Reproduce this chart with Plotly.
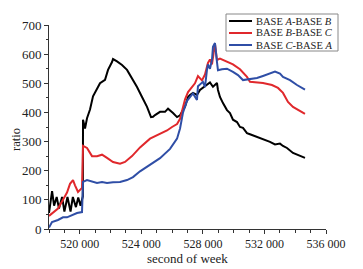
import plotly.graph_objects as go

# ---- data ----
ab_x = [518000, 518200, 518330, 518500, 518650, 518850, 519000, 519200, 519400, 519550,
        519750, 519900, 520050, 520200, 520210, 520340, 520470, 520665, 520860, 521120,
        521315, 521640, 521835, 522095, 522160, 522420, 522745, 523070, 523395, 523720,
        524045, 524370, 524630, 524760, 524890, 525215, 525540, 525735, 526060, 526320,
        526515, 526840, 527035, 527160, 527355, 527615, 527810, 528265, 528460, 528655,
        528915, 528980, 529110, 529305, 529565, 529760, 529955, 530215, 530410, 530605,
        530865, 531060, 531515, 531905, 532360, 532685, 532880, 533010, 533205, 533465,
        533855, 534180, 534310, 534635]
ab_y = [55, 130, 80, 110, 70, 110, 60, 110, 60, 110,
        75, 108, 80, 112, 375, 345, 380, 410, 455, 478,
        500, 512, 546, 573, 583, 575, 563, 546, 518, 487,
        453, 419, 384, 385, 391, 402, 402, 413, 398, 384,
        390, 420, 453, 460, 467, 460, 477, 494, 503, 488,
        501, 477, 453, 432, 408, 398, 375, 367, 350, 347,
        329, 325, 316, 309, 299, 290, 292, 293, 285, 278,
        261, 255, 250, 244]

bc_x = [518000, 518260, 518585, 518910, 519170, 519365, 519560, 519690, 519885, 520145,
        520210, 520470, 520795, 521120, 521445, 521770, 522160, 522615, 522940, 523395,
        523915, 524565, 525215, 525670, 525995, 526320, 526515, 526840, 527035, 527160,
        527485, 527680, 527940, 528135, 528330, 528460, 528590, 528785, 528915, 529110,
        529565, 529955, 530410, 530865, 531060, 531905, 532490, 532880, 533205, 533530,
        533855, 534310, 534635]
bc_y = [45, 55, 70, 100, 125, 155, 168, 150, 127, 141,
        285, 278, 250, 250, 255, 244, 230, 224, 230, 250,
        280, 310, 325, 338, 350, 360, 378, 445, 470, 478,
        500, 525, 510, 530, 570, 582, 565, 635, 580, 585,
        575, 565, 548, 522, 505, 501, 494, 484, 467, 436,
        419, 405, 395]

ca_x = [518000, 518195, 518585, 518910, 519170, 519495, 519820, 520145, 520210, 520470,
        520795, 521120, 521445, 521770, 522160, 522615, 523070, 523460, 523915, 524565,
        525215, 525865, 526320, 526515, 526710, 526970, 527160, 527355, 527615, 527680,
        528005, 528135, 528265, 528330, 528460, 528590, 528655, 528785, 528915, 528980,
        529240, 529565, 529955, 530280, 530605, 531060, 531515, 531905, 532360, 532685,
        533010, 533205, 533660, 534115, 534635]
ca_y = [5, 24, 31, 40, 40, 48, 55, 58, 162, 168,
        162, 158, 161, 158, 160, 161, 168, 178, 198, 220,
        243, 275, 310, 345, 400, 440, 453, 465, 443, 490,
        505, 487, 546, 565, 550, 580, 625, 638, 573, 545,
        548, 550, 539, 528, 511, 514, 518, 525, 535, 540,
        533, 522, 511, 494, 478]

x_tick_vals = [520000, 524000, 528000, 532000, 536000]
x_tick_text = ["520 000", "524 000", "528 000", "532 000", "536 000"]
y_tick_vals = [0, 100, 200, 300, 400, 500, 600, 700]
legend_names = ["BASE <i>A</i>-BASE <i>B</i>", "BASE <i>B</i>-BASE <i>C</i>", "BASE <i>C</i>-BASE <i>A</i>"]

colors = ["#000000", "#e0282c", "#2f4ea6"]
FONT = "Liberation Serif"

fig = go.Figure()
for xs, ys, c, n in [(ab_x, ab_y, colors[0], legend_names[0]),
                     (bc_x, bc_y, colors[1], legend_names[1]),
                     (ca_x, ca_y, colors[2], legend_names[2])]:
    fig.add_trace(go.Scatter(x=xs, y=ys, mode="lines", name=n,
                             line=dict(color=c, width=2), showlegend=False))

# page body has an 8px margin; figure is sized so it fills the window
OFF = 8
W, H = 363 - OFF, 269 - OFF
L, T = 49 - OFF, 25 - OFF
R = W - (326 - OFF)
B = H - (229 - OFF)
pw, ph = W - L - R, H - T - B

def px(x):  # reference window pixel -> paper x
    return (x - OFF - L) / pw

def py(y):  # reference window pixel -> paper y
    return (H - B - (y - OFF)) / ph

shapes = [dict(type="rect", xref="paper", yref="paper",
               x0=px(226), x1=px(338), y0=py(51), y1=py(14),
               line=dict(color="#888888", width=1), fillcolor="white")]
annotations = []
rows = [21, 33, 45]
for i, r in enumerate(rows):
    shapes.append(dict(type="line", xref="paper", yref="paper",
                       x0=px(229), x1=px(252), y0=py(r), y1=py(r),
                       line=dict(color=colors[i], width=2)))
    annotations.append(dict(xref="paper", yref="paper", x=px(254), y=py(r),
                            xanchor="left", yanchor="middle", showarrow=False,
                            text=legend_names[i],
                            font=dict(family=FONT, size=10.5, color="#222")))

annotations.append(dict(xref="paper", yref="paper", x=px(187), y=py(258),
                        xanchor="center", yanchor="middle", showarrow=False,
                        text="second of week", font=dict(family=FONT, size=13, color="#222")))
annotations.append(dict(xref="paper", yref="paper", x=px(16), y=py(140),
                        xanchor="center", yanchor="middle", showarrow=False, textangle=-90,
                        text="ratio", font=dict(family=FONT, size=12.5, color="#222")))

fig.update_layout(
    width=W, height=H,
    margin=dict(l=L, r=R, t=T, b=B, autoexpand=False),
    paper_bgcolor="white", plot_bgcolor="white",
    font=dict(family=FONT, color="#222"),
    shapes=shapes, annotations=annotations,
    xaxis=dict(range=[518000, 536000], tickvals=x_tick_vals, ticktext=x_tick_text,
               showgrid=False, zeroline=False, showline=True, linecolor="#333",
               linewidth=1, ticks="outside", ticklen=4, tickcolor="#333",
               tickfont=dict(family=FONT, size=12),
               minor=dict(dtick=1000, ticks="outside", ticklen=3, tickcolor="#333",
                          showgrid=False)),
    yaxis=dict(range=[0, 700], tickvals=y_tick_vals,
               showgrid=False, zeroline=False, showline=True, linecolor="#333",
               linewidth=1, ticks="outside", ticklen=4, tickcolor="#333",
               tickfont=dict(family=FONT, size=13),
               minor=dict(dtick=50, ticks="outside", ticklen=2, tickcolor="#333",
                          showgrid=False)),
)

fig.write_html("out.html")
